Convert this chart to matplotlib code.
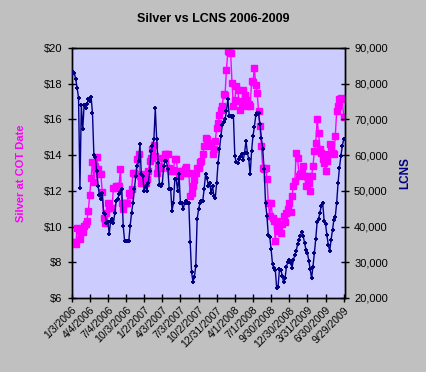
import matplotlib
matplotlib.use('Agg')
import matplotlib.pyplot as plt
from matplotlib.ticker import FuncFormatter

plt.rcParams['font.family'] = ['Liberation Sans', 'DejaVu Sans']

# weekly COT dates, 1/3/2006 .. 10/6/2009 (one point per week)
tick_labels = ['1/3/2006', '4/4/2006', '7/4/2006', '10/3/2006', '1/2/2007', '4/3/2007',
               '7/3/2007', '10/2/2007', '12/31/2007', '4/1/2008', '7/1/2008', '9/30/2008',
               '12/30/2008', '3/31/2009', '6/30/2009', '9/29/2009']

silver = [9.11, 9.11, 9.07, 9.01, 9.94, 9.76, 9.29, 9.70, 9.70, 10.04,
          10.13, 10.32, 10.88, 11.75, 12.74, 13.61, 12.50, 13.39, 13.91, 13.24,
          12.92, 12.92, 11.94, 10.50, 10.22, 10.78, 11.34, 11.06, 11.06, 11.06,
          12.18, 12.18, 12.27, 12.27, 12.27, 13.20, 11.34, 10.97, 11.34, 11.34,
          11.34, 11.90, 11.75, 12.09, 13.02, 13.02, 12.92, 13.76, 14.04, 12.83,
          12.46, 12.92, 12.86, 12.42, 12.64, 13.11, 13.67, 13.85, 14.32, 14.54,
          13.95, 13.02, 13.30, 13.39, 13.30, 13.85, 13.85, 14.04, 14.04, 14.04,
          13.30, 13.11, 13.11, 13.17, 13.76, 13.76, 13.11, 13.02, 12.83, 13.11,
          13.02, 13.20, 13.35, 13.02, 13.02, 11.71, 11.90, 12.27, 12.61, 13.02,
          13.30, 13.30, 13.61, 13.67, 14.04, 14.51, 14.97, 14.88, 14.66, 14.51,
          14.60, 14.04, 14.32, 14.79, 15.53, 15.81, 16.22, 16.55, 16.74, 17.45,
          17.39, 18.79, 19.81, 19.76, 19.72, 18.04, 16.74, 17.11, 17.86, 17.67,
          17.02, 16.55, 16.93, 17.67, 17.39, 17.11, 16.74, 16.89, 16.74, 18.14,
          18.08, 18.88, 17.95, 17.49, 16.46, 15.62, 14.51, 13.30, 13.20, 13.30,
          12.64, 11.34, 10.60, 11.34, 10.50, 10.32, 9.20, 10.32, 10.04, 9.76,
          9.66, 10.13, 10.60, 10.26, 10.78, 10.97, 11.34, 10.82, 11.71, 12.27,
          12.55, 14.13, 13.85, 12.83, 12.92, 13.02, 13.39, 12.83, 12.27, 12.83,
          12.46, 11.99, 12.83, 13.39, 14.23, 14.69, 16.00, 15.25, 14.32, 14.13,
          13.76, 13.58, 13.11, 13.67, 14.04, 14.60, 14.51, 14.13, 14.04, 15.07,
          16.46, 16.74, 17.15, 17.19, 17.15, 16.15, 16.15]

lcns = [82.6, 83.3, 83.0, 81.2, 78.8, 76.0, 50.7, 74.0, 67.2, 74.0,
        73.2, 74.2, 75.6, 75.1, 76.3, 71.7, 59.9, 59.6, 55.5, 51.4,
        48.8, 47.6, 49.3, 43.9, 43.4, 41.1, 41.3, 38.0, 41.6, 42.0,
        40.9, 43.9, 47.2, 47.6, 49.0, 49.7, 50.4, 40.2, 36.0, 36.0,
        36.0, 36.0, 40.2, 43.9, 46.7, 50.4, 54.2, 57.0, 58.3, 63.0,
        54.6, 54.2, 50.0, 51.4, 50.0, 52.3, 55.5, 61.1, 62.5, 64.4,
        73.1, 64.4, 57.9, 51.6, 51.4, 51.8, 57.0, 58.3, 58.3, 56.0,
        50.4, 50.4, 44.4, 46.7, 53.2, 53.2, 50.0, 54.6, 46.7, 46.7,
        44.8, 46.7, 47.2, 46.7, 46.7, 35.8, 27.2, 24.6, 25.8, 29.0,
        42.0, 44.8, 46.7, 47.2, 47.2, 50.4, 54.6, 53.7, 51.4, 52.3,
        49.3, 51.4, 48.6, 48.1, 52.3, 57.9, 61.6, 65.3, 68.3, 69.3,
        70.0, 72.3, 75.8, 70.9, 70.9, 70.7, 70.9, 59.7, 58.1, 57.7,
        58.8, 59.6, 60.2, 58.6, 60.7, 63.9, 60.7, 58.8, 54.6, 61.1,
        65.3, 67.9, 71.1, 71.7, 71.7, 68.6, 64.9, 61.6, 56.0, 46.7,
        43.0, 37.6, 37.2, 33.7, 29.5, 28.3, 27.9, 22.7, 23.2, 28.1,
        27.9, 26.2, 24.4, 25.5, 28.8, 30.1, 30.7, 29.8, 28.5, 30.7,
        32.0, 33.2, 35.1, 36.3, 37.4, 38.5, 37.4, 35.3, 33.5, 32.7,
        30.4, 28.1, 25.5, 28.8, 32.5, 36.6, 41.3, 42.2, 43.9, 45.8,
        46.5, 41.6, 40.7, 37.6, 34.8, 33.2, 36.3, 39.1, 41.9, 42.8,
        46.7, 52.3, 56.5, 59.7, 62.5, 64.4, 64.6]
lcns = [v * 1000 for v in lcns]

weeks = list(range(len(silver)))

fig = plt.figure(figsize=(4.26, 3.72), dpi=100, facecolor='#c0c0c0')
ax = fig.add_axes([0.168, 0.199, 0.642, 0.672])
ax.set_facecolor('#ccccff')
ax2 = ax.twinx()

ax.plot(weeks, silver, color='#ff00ff', lw=1, marker='s', ms=3.8, mec='#ff00ff', zorder=3)
ax2.plot(weeks, lcns, color='#000080', lw=1, marker='+', ms=3.5, mew=1.4, zorder=3)

ax.set_xlim(0, len(weeks) - 1)
ax.set_ylim(6, 20)
ax.set_yticks(range(6, 21, 2))
ax.yaxis.set_major_formatter(FuncFormatter(lambda v, p: '$%d' % v))
ax2.set_ylim(20000, 90000)
ax2.set_yticks(range(20000, 90001, 10000))
ax2.yaxis.set_major_formatter(FuncFormatter(lambda v, p: '{:,.0f}'.format(v)))

ax.set_xticks(range(0, 13 * len(tick_labels), 13))
ax.set_xticklabels(tick_labels, rotation=45, ha='right', va='top', rotation_mode='anchor')

for a in (ax, ax2):
    for s in a.spines.values():
        s.set_linewidth(1)
        s.set_color('black')
    a.tick_params(direction='inout', length=6, width=1, labelsize=8, colors='black')
ax.tick_params(axis='x', labelsize=7.5, pad=2)

fig.text(0.5, 0.95, 'Silver vs LCNS 2006-2009', ha='center', va='center',
         fontsize=9, fontweight='bold')
fig.text(0.05, 0.535, 'Silver at COT Date', rotation=90, ha='center', va='center',
         fontsize=8, fontweight='bold', color='#ff00ff')
fig.text(0.952, 0.535, 'LCNS', rotation=90, ha='center', va='center',
         fontsize=8.5, fontweight='bold', color='#000080')

plt.savefig('out.png', dpi=100, facecolor=fig.get_facecolor())
